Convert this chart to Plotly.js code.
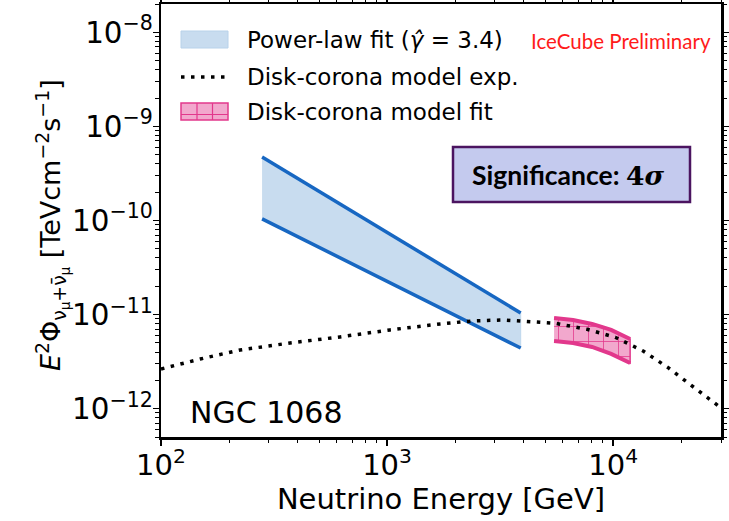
<!DOCTYPE html>
<html>
<head>
<meta charset="utf-8">
<script src="https://cdn.plot.ly/plotly-3.0.1.min.js"></script>
<style>html,body{margin:0;padding:0;background:#fff;}#chart{width:729px;height:521px;}</style>
</head>
<body>
<div id="chart"></div>
<script>
// ---- data ----
const plE = [280, 3900];                 // power-law band energy range [GeV]
const plUpper = [4.73e-10, 1.04e-11];    // upper edge E^2 Phi
const plLower = [1.04e-10, 4.41e-12];    // lower edge E^2 Phi

const modelE = [100, 149, 224, 372, 619, 1030, 1718, 2404, 3260, 5539, 7670, 10210, 13580, 17510, 22580, 28840, 30000];
const modelFlux = [2.64e-12, 3.37e-12, 4.21e-12, 4.99e-12, 5.79e-12, 6.87e-12, 7.96e-12, 8.57e-12, 8.77e-12, 8.09e-12, 6.98e-12, 5.74e-12, 4.10e-12, 2.73e-12, 1.71e-12, 1.10e-12, 1.02e-12];

const fitE = [5480, 6650, 8070, 9800, 11890];
const fitUpper = [9.21e-12, 8.77e-12, 7.95e-12, 6.87e-12, 5.51e-12];
const fitLower = [5.25e-12, 4.99e-12, 4.53e-12, 3.82e-12, 3.06e-12];

const xTickVals = [100, 1000, 10000];
const xTickText = ['10<sup>2</sup>', '10<sup>3</sup>', '10<sup>4</sup>'];
const legendLabels = ['Power-law fit (<i>γ̂</i> = 3.4)', 'Disk-corona model exp.', 'Disk-corona model fit'];
const yTitle = '<i>E</i><sup>2</sup>Φ<sub>ν<sub>μ</sub>+ν̄<sub>μ</sub></sub> [TeVcm<sup>−2</sup>s<sup>−1</sup>]';

// ---- layout helpers (pixel -> paper) ----
const L = 161, R = 721, T = 4, B = 437;
const px = v => (v - L) / (R - L);
const py = v => (B - v) / (B - T);

const blueEdge = '#1767c2', blueFill = '#c8dcef';
const pinkEdge = '#e2388c', pinkFill = '#f2a8cd';

const traces = [
  { x: plE.concat(plE.slice().reverse()), y: plUpper.concat(plLower.slice().reverse()),
    type: 'scatter', mode: 'lines', fill: 'toself', fillcolor: blueFill,
    line: { width: 0.8, color: '#b8d2ea' }, hoverinfo: 'skip', showlegend: false },
  { x: plE, y: plUpper, type: 'scatter', mode: 'lines', line: { color: blueEdge, width: 3.5 }, showlegend: false },
  { x: plE, y: plLower, type: 'scatter', mode: 'lines', line: { color: blueEdge, width: 3.5 }, showlegend: false },
  { x: fitE.concat(fitE.slice().reverse()), y: fitUpper.concat(fitLower.slice().reverse()),
    type: 'scatter', mode: 'lines', fill: 'toself', fillcolor: pinkFill,
    fillpattern: { shape: '+', size: 15, solidity: 0.1, fgcolor: pinkEdge, bgcolor: pinkFill },
    line: { width: 1.5, color: pinkEdge }, showlegend: false },
  { x: fitE, y: fitUpper, type: 'scatter', mode: 'lines', line: { color: pinkEdge, width: 4 }, showlegend: false },
  { x: fitE, y: fitLower, type: 'scatter', mode: 'lines', line: { color: pinkEdge, width: 4 }, showlegend: false },
  { x: modelE, y: modelFlux, type: 'scatter', mode: 'lines',
    line: { color: 'black', width: 3.5, dash: '3.5px,6.5px' }, showlegend: false }
];

const shapes = [
  // legend patches
  { type: 'rect', xref: 'paper', yref: 'paper', x0: px(181), x1: px(228), y0: py(48), y1: py(31),
    fillcolor: blueFill, line: { color: '#b8d2ea', width: 1 } },
  { type: 'line', xref: 'paper', yref: 'paper', x0: px(181), x1: px(230), y0: py(77), y1: py(77),
    line: { color: 'black', width: 3.5, dash: '3.5px,6.5px' } },
  { type: 'rect', xref: 'paper', yref: 'paper', x0: px(181), x1: px(228), y0: py(120), y1: py(103),
    fillcolor: pinkFill, line: { color: pinkEdge, width: 1.5 } },
  { type: 'line', xref: 'paper', yref: 'paper', x0: px(197), x1: px(197), y0: py(120), y1: py(103), line: { color: pinkEdge, width: 1.2 } },
  { type: 'line', xref: 'paper', yref: 'paper', x0: px(212.5), x1: px(212.5), y0: py(120), y1: py(103), line: { color: pinkEdge, width: 1.2 } },
  { type: 'line', xref: 'paper', yref: 'paper', x0: px(181), x1: px(228), y0: py(114.5), y1: py(114.5), line: { color: pinkEdge, width: 1.2 } },
  // significance box
  { type: 'rect', xref: 'paper', yref: 'paper', x0: px(453), x1: px(690), y0: py(202), y1: py(147),
    fillcolor: '#c4caee', line: { color: '#4b1460', width: 2.5 } }
];

const annotations = [
  { xref: 'paper', yref: 'paper', x: px(245), y: py(40), xanchor: 'left', yanchor: 'middle', showarrow: false,
    text: legendLabels[0], font: { size: 23, color: 'black' } },
  { xref: 'paper', yref: 'paper', x: px(245), y: py(77), xanchor: 'left', yanchor: 'middle', showarrow: false,
    text: legendLabels[1], font: { size: 23, color: 'black' } },
  { xref: 'paper', yref: 'paper', x: px(245), y: py(112), xanchor: 'left', yanchor: 'middle', showarrow: false,
    text: legendLabels[2], font: { size: 23, color: 'black' } },
  { xref: 'paper', yref: 'paper', x: px(621), y: py(41), xanchor: 'center', yanchor: 'middle', showarrow: false,
    text: 'IceCube Preliminary', font: { family: 'Lato', size: 20.5, color: '#ff1a1a' } },
  { xref: 'paper', yref: 'paper', x: px(568), y: py(175), xanchor: 'center', yanchor: 'middle', showarrow: false,
    text: "<b>Significance: </b><span style='font-family:DejaVu Serif'><b>4<i>σ</i></b></span>",
    font: { family: 'Lato', size: 26.5, color: 'black' } },
  { xref: 'paper', yref: 'paper', x: px(188), y: py(412), xanchor: 'left', yanchor: 'middle', showarrow: false,
    text: 'NGC 1068', font: { size: 30, color: 'black' } },
  // y-axis title
  { xref: 'paper', yref: 'paper', x: px(52), y: py(225), xanchor: 'center', yanchor: 'middle', showarrow: false,
    textangle: -90, text: yTitle, font: { size: 27, color: 'black' } }
];

const layout = {
  width: 729, height: 521,
  margin: { l: L, r: 729 - R, t: T, b: 521 - B, pad: 0 },
  paper_bgcolor: 'white', plot_bgcolor: 'white',
  font: { family: 'DejaVu Sans', color: 'black' },
  showlegend: false,
  xaxis: {
    type: 'log', range: [2, Math.log10(30000)],
    tickvals: xTickVals, ticktext: xTickText,
    ticks: 'outside', ticklen: 6, tickwidth: 1.5, tickcolor: 'black', ticklabelstandoff: -5,
    minor: { ticks: 'outside', ticklen: 3.5, tickwidth: 1, tickcolor: 'black', dtick: 'D1', showgrid: false },
    showline: true, linewidth: 2.5, linecolor: 'black', mirror: 'allticks',
    showgrid: false, zeroline: false,
    tickfont: { size: 29 },
    title: { text: 'Neutrino Energy [GeV]', font: { size: 29 }, standoff: 4 }
  },
  yaxis: {
    type: 'log', range: [Math.log10(5e-13), Math.log10(2e-8)],
    dtick: 1, exponentformat: 'power', showexponent: 'all',
    ticks: 'outside', ticklen: 6, tickwidth: 1.5, tickcolor: 'black', ticklabelstandoff: -5,
    minor: { ticks: 'outside', ticklen: 3.5, tickwidth: 1, tickcolor: 'black', dtick: 'D1', showgrid: false },
    showline: true, linewidth: 2.5, linecolor: 'black', mirror: 'allticks',
    showgrid: false, zeroline: false,
    tickfont: { size: 23.5 }
  },
  shapes: shapes,
  annotations: annotations
};

Plotly.newPlot('chart', traces, layout, { displayModeBar: false, staticPlot: true });
</script>
</body>
</html>
